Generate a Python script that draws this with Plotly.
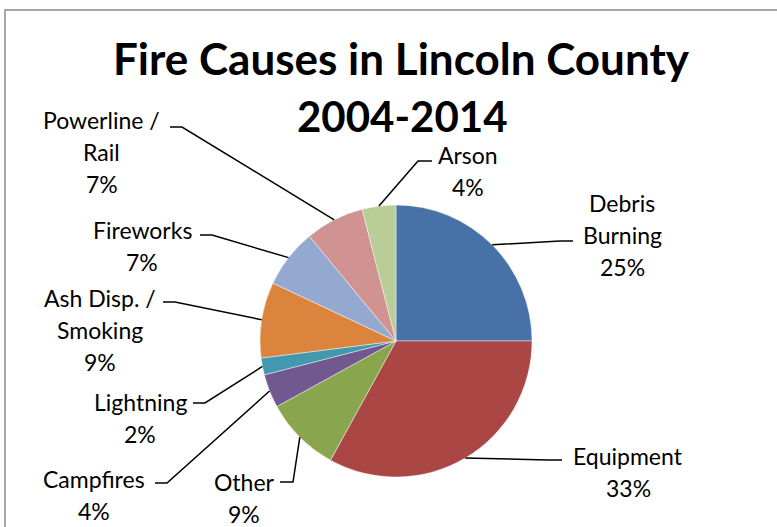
import math
import plotly.graph_objects as go

# ---- data ----
causes = ["Debris Burning", "Equipment", "Other", "Campfires", "Lightning",
          "Ash Disp. / Smoking", "Fireworks", "Powerline / Rail", "Arson"]
percent = [25, 33, 9, 4, 2, 9, 7, 7, 4]
label_lines = [["Debris", "Burning"], ["Equipment"], ["Other"], ["Campfires"],
               ["Lightning"], ["Ash Disp. /", "Smoking"], ["Fireworks"],
               ["Powerline /", "Rail"], ["Arson"]]
colors = ["#4672A8", "#AA4644", "#89A54E", "#71588F", "#4198AF",
          "#DB843D", "#93A9CF", "#D19392", "#B9CD96"]
title_lines = ["Fire Causes in Lincoln County", "2004-2014"]

# ---- layout (pixels) ----
W, H = 777, 527
CX, CY, R = 396, 341, 136
LINE_GAP = 32
label_pos = [(622, 203), (628, 456), (244, 482), (94, 479), (140, 402),
             (100, 298), (142, 230), (102, 120), (468, 155)]
leader_pts = [((560, 241), (573, 241)), ((548, 460), (562, 460)),
              ((293, 482), (280, 482)), ((167, 483), (155, 483)),
              ((205, 403), (193, 403)), ((175, 302), (163, 302)),
              ((212, 235), (200, 235)), ((182, 127), (170, 127)),
              ((418, 161), (432, 161))]
title_pos = [(401, 58), (402, 116)]
title_sizes = [44, 42]

def px(x):
    return x / W

def py(y):
    return 1 - y / H

fig = go.Figure()
fig.add_trace(go.Pie(
    labels=causes, values=percent, sort=False, direction="clockwise",
    rotation=0, textinfo="none", hoverinfo="skip", showlegend=False,
    marker=dict(colors=colors, line=dict(color="rgba(255,255,255,0.55)", width=0.8)),
    domain=dict(x=[px(CX - R), px(CX + R)], y=[py(CY + R), py(CY - R)]),
))

total = sum(percent)
cum = 0
annotations = []
shapes = []
for i, v in enumerate(percent):
    theta = 2 * math.pi * (cum + v / 2) / total
    cum += v
    ax = CX + R * math.sin(theta)
    ay = CY - R * math.cos(theta)
    (ex, ey), (tx, ty) = leader_pts[i]
    shapes.append(dict(
        type="path", xref="paper", yref="paper",
        path=f"M {px(ax)} {py(ay)} L {px(ex)} {py(ey)} L {px(tx)} {py(ty)}",
        line=dict(color="black", width=1.5),
    ))
    lines = label_lines[i] + [f"{v}%"]
    lx, ly = label_pos[i]
    for j, t in enumerate(lines):
        annotations.append(dict(
            text=t, x=px(lx), y=py(ly + j * LINE_GAP), xref="paper", yref="paper",
            xanchor="center", yanchor="middle", showarrow=False,
            font=dict(family="Lato", size=23, color="black"),
        ))

for (tx, ty), t, s in zip(title_pos, title_lines, title_sizes):
    annotations.append(dict(
        text=f"<b>{t}</b>", x=px(tx), y=py(ty), xref="paper", yref="paper",
        xanchor="center", yanchor="middle", showarrow=False,
        font=dict(family="Lato", size=s, color="black"),
    ))

shapes.append(dict(type="rect", xref="paper", yref="paper",
                   x0=px(5), y0=py(10), x1=1.05, y1=-0.05,
                   line=dict(color="#8a8a8a", width=1.5)))

fig.update_layout(
    width=W, height=H, margin=dict(l=0, r=0, t=0, b=0),
    paper_bgcolor="white", plot_bgcolor="white",
    annotations=annotations, shapes=shapes,
)
fig.write_html("out.html", config={"displayModeBar": False},
               post_script="document.body.style.margin='0';document.body.style.overflow='hidden';")
